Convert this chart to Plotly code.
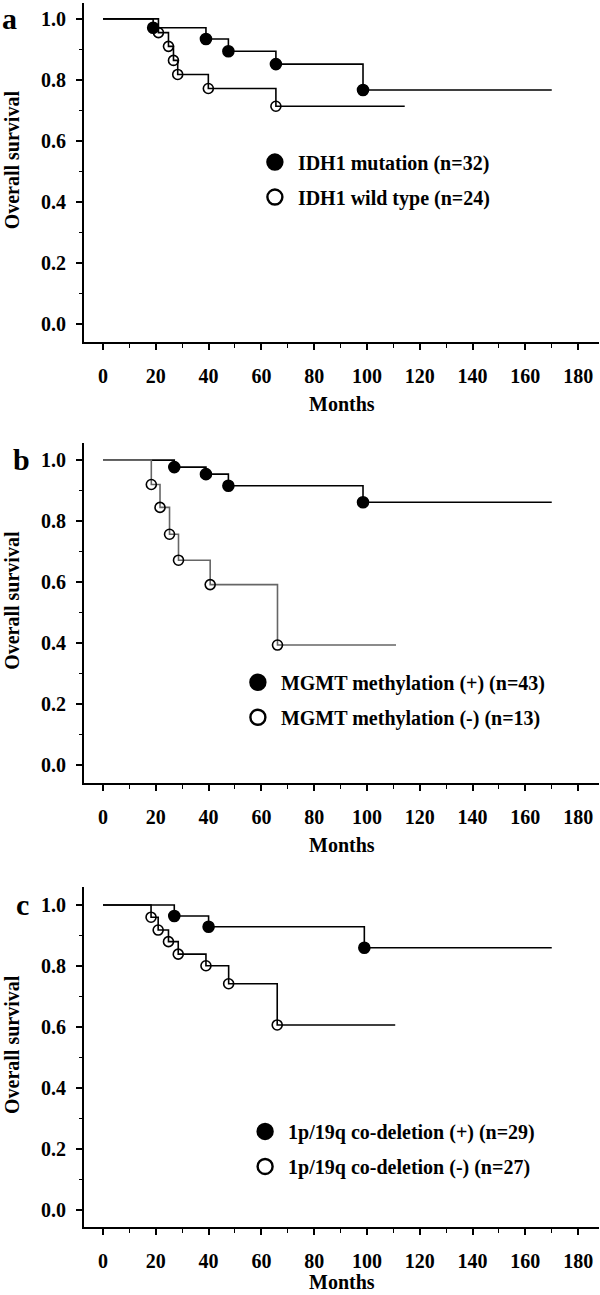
import plotly.graph_objects as go
from plotly.subplots import make_subplots

# ---------------- data ----------------
# Panel a: IDH1
idh1_mut_times = [19, 39, 47.5, 65.5, 98.5]
idh1_mut_surv = [0.971, 0.934, 0.894, 0.852, 0.767]
idh1_mut_end = 170
idh1_wt_times = [21, 24.8, 26.7, 28.3, 39.9, 65.5]
idh1_wt_surv = [0.955, 0.910, 0.864, 0.818, 0.772, 0.714]
idh1_wt_end = 114.3

# Panel b: MGMT methylation
mgmt_pos_times = [27, 39, 47.5, 98.5]
mgmt_pos_surv = [0.977, 0.954, 0.916, 0.862]
mgmt_pos_end = 170
mgmt_neg_times = [18.3, 21.6, 25.2, 28.6, 40.6, 66.1]
mgmt_neg_surv = [0.920, 0.845, 0.757, 0.672, 0.592, 0.394]
mgmt_neg_end = 111

# Panel c: 1p/19q co-deletion
codel_pos_times = [27, 40, 99]
codel_pos_surv = [0.964, 0.929, 0.860]
codel_pos_end = 170
codel_neg_times = [18.2, 20.9, 24.8, 28.5, 39.0, 47.6, 66.0]
codel_neg_surv = [0.960, 0.918, 0.880, 0.839, 0.801, 0.742, 0.607]
codel_neg_end = 110.7

panel_letters = ["a", "b", "c"]
legend_names = [
    ("IDH1 mutation (n=32)", "IDH1 wild type (n=24)"),
    ("MGMT methylation (+) (n=43)", "MGMT methylation (-) (n=13)"),
    ("1p/19q co-deletion (+) (n=29)", "1p/19q co-deletion (-) (n=27)"),
]
y_title = "Overall survival"
x_title = "Months"
x_ticks = [0, 20, 40, 60, 80, 100, 120, 140, 160, 180]
y_ticks = [0.0, 0.2, 0.4, 0.6, 0.8, 1.0]

panels = [
    ((idh1_mut_times, idh1_mut_surv, idh1_mut_end), (idh1_wt_times, idh1_wt_surv, idh1_wt_end), "black"),
    ((mgmt_pos_times, mgmt_pos_surv, mgmt_pos_end), (mgmt_neg_times, mgmt_neg_surv, mgmt_neg_end), "#666666"),
    ((codel_pos_times, codel_pos_surv, codel_pos_end), (codel_neg_times, codel_neg_surv, codel_neg_end), "black"),
]

# ---------------- figure ----------------
FONT = "Liberation Serif"
W, H = 600, 1295
ML, MR, MT, MB = 84, 1, 3, 68
plot_h = H - MT - MB

fig = make_subplots(rows=3, cols=1)

# domains (pixel tops/bottoms converted to paper fractions)
pix = [(3, 341.7), (443, 782.7), (887, 1227)]
domains = []
for top, bot in pix:
    domains.append([(H - MB - bot) / plot_h, (H - MB - top) / plot_h])
y_ranges = [[-0.057, 1.052], [-0.057, 1.056], [-0.055, 1.059]]

legend_pos = [(0.326, 0.886), (0.293, 0.461), (0.307, 0.094)]
legend_keys = ["legend", "legend2", "legend3"]

for i, (pos, neg, neg_color) in enumerate(panels):
    row = i + 1
    lg = legend_keys[i]
    for (times, surv, end), filled, lcol in [(pos, True, "black"), (neg, False, neg_color)]:
        xs = [0] + list(times) + [end]
        ys = [1.0] + list(surv) + [surv[-1]]
        fig.add_trace(go.Scatter(x=xs, y=ys, mode="lines", line=dict(shape="hv", color=lcol, width=1.6),
                                 showlegend=False, hoverinfo="skip"), row=row, col=1)
        fig.add_trace(go.Scatter(
            x=times, y=surv, mode="markers", showlegend=False,
            marker=dict(symbol="circle" if filled else "circle-open", size=11 if filled else 10,
                        color="black", line=dict(width=1.6, color="black")),
        ), row=row, col=1)
    # legend-only entries
    for name, filled in [(legend_names[i][0], True), (legend_names[i][1], False)]:
        fig.add_trace(go.Scatter(
            x=[None], y=[None], mode="markers", name=name, legend=lg, legendgroup=name,
            marker=dict(symbol="circle" if filled else "circle-open", size=15,
                        color="black", line=dict(width=2.4, color="black")),
        ), row=row, col=1)

tickfont = dict(family=FONT, size=20, color="black", weight="bold")
for i in range(3):
    xa = "xaxis" if i == 0 else f"xaxis{i+1}"
    ya = "yaxis" if i == 0 else f"yaxis{i+1}"
    fig.layout[xa].update(
        domain=[0, 1], range=[-7.2, 187.9], tickvals=x_ticks, ticks="outside", ticklen=6, tickwidth=1.6,
        tickcolor="black", showline=True, linecolor="black", linewidth=2, showgrid=False, zeroline=False,
        tickfont=tickfont, ticklabelstandoff=9,
        minor=dict(dtick=10, tick0=0, ticks="outside", ticklen=4, tickwidth=1.4, tickcolor="black", showgrid=False),
    )
    fig.layout[ya].update(
        domain=domains[i], range=y_ranges[i], tickvals=y_ticks, tickformat=".1f", ticks="outside", ticklen=6,
        tickwidth=1.6, tickcolor="black", showline=True, linecolor="black", linewidth=2, showgrid=False,
        zeroline=False, tickfont=tickfont, ticklabelstandoff=6,
        minor=dict(dtick=0.1, tick0=0, ticks="outside", ticklen=3.5, tickwidth=1.4, tickcolor="black", showgrid=False),
    )

legend_style = dict(font=dict(family=FONT, size=20, color="black", weight="bold"), bgcolor="rgba(0,0,0,0)",
                    borderwidth=0, itemwidth=36, tracegroupgap=6, xanchor="left", yanchor="top")
for i, key in enumerate(legend_keys):
    fig.layout[key] = dict(x=legend_pos[i][0], y=legend_pos[i][1], **legend_style)

annotations = []
letter_px = [(9.5, 19), (21, 459), (22, 904)]
months_shift = [-62, -62, -55]
for i in range(3):
    dom = domains[i]
    ymid = (dom[0] + dom[1]) / 2
    # panel letter
    annotations.append(dict(text=panel_letters[i], xref="paper", yref="paper", x=0, y=(H - MB - letter_px[i][1]) / plot_h,
                            xshift=letter_px[i][0] - ML, xanchor="center", yanchor="middle", showarrow=False,
                            font=dict(family=FONT, size=30, color="black", weight="bold")))
    # y title
    annotations.append(dict(text=y_title, xref="paper", yref="paper", x=0, y=ymid, xshift=12 - ML, yshift=12,
                            textangle=-90, xanchor="center", yanchor="middle", showarrow=False,
                            font=dict(family=FONT, size=20, color="black", weight="bold")))
    # x title
    annotations.append(dict(text=x_title, xref="paper", yref="paper", x=0.5, y=dom[0], yshift=months_shift[i],
                            xanchor="center", yanchor="middle", showarrow=False,
                            font=dict(family=FONT, size=20, color="black", weight="bold")))

fig.update_layout(
    width=W, height=H, margin=dict(l=ML, r=MR, t=MT, b=MB, pad=0),
    paper_bgcolor="white", plot_bgcolor="white", annotations=annotations,
    font=dict(family=FONT, color="black"),
)

fig.write_html("out.html", config={"displayModeBar": False},
               post_script="document.body.style.margin='0';document.body.style.overflow='hidden';")
